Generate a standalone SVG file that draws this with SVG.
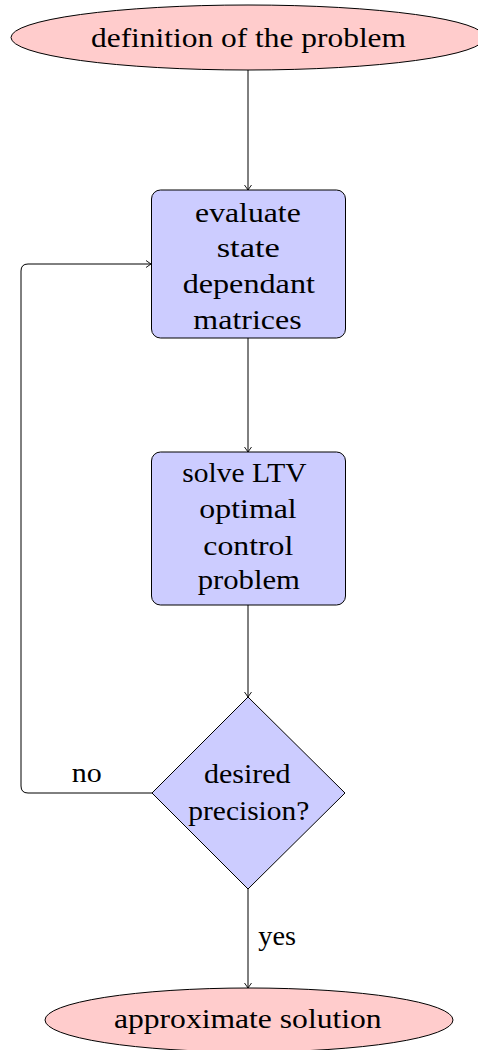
<svg xmlns="http://www.w3.org/2000/svg" width="478" height="1050" viewBox="0 0 478 1050">
<style>
.t{font-family:"Liberation Serif","Times New Roman",serif;font-size:28px;fill:#000;text-anchor:middle}
.e{fill:#FFCCCC;stroke:#000;stroke-width:1}
.b{fill:#CCCCFF;stroke:#000;stroke-width:1}
.c{fill:none;stroke:#000;stroke-width:1}
</style>
<defs>
<marker id="a" viewBox="-6 -5 8 10" refX="0" refY="0" markerWidth="8" markerHeight="10" markerUnits="userSpaceOnUse" orient="auto">
<path d="M-5,-3.5 Q-1.5,-1 0,0 Q-1.5,1 -5,3.5" fill="none" stroke="#000" stroke-width="0.9"/>
</marker>
</defs>
<g id="connectors">
<path class="c" d="M248,70 V190" marker-end="url(#a)"/>
<path class="c" d="M248,338 V452" marker-end="url(#a)"/>
<path class="c" d="M248,605 V697" marker-end="url(#a)"/>
<path class="c" d="M248,889 V988" marker-end="url(#a)"/>
<path class="c" d="M152,793 H28 Q21,793 21,786 V271 Q21,264 28,264 H151" marker-end="url(#a)"/>
<text class="t" x="86.7" y="782" textLength="30" lengthAdjust="spacingAndGlyphs">no</text>
<text class="t" x="277.2" y="945" textLength="37.7" lengthAdjust="spacingAndGlyphs">yes</text>
</g>
<g id="start">
<ellipse class="e" cx="248" cy="37.5" rx="237" ry="32.5"/>
<text class="t" x="248.5" y="46.7" textLength="315" lengthAdjust="spacingAndGlyphs">definition of the problem</text>
</g>
<g id="evaluate">
<rect class="b" x="151.5" y="190" width="194" height="148" rx="9"/>
<text class="t" x="247.9" y="221.5" textLength="105.7" lengthAdjust="spacingAndGlyphs">evaluate</text>
<text class="t" x="248.3" y="257.3" textLength="63.3" lengthAdjust="spacingAndGlyphs">state</text>
<text class="t" x="248.8" y="292.5" textLength="132.3" lengthAdjust="spacingAndGlyphs">dependant</text>
<text class="t" x="247.5" y="328.5" textLength="108.3" lengthAdjust="spacingAndGlyphs">matrices</text>
</g>
<g id="solve">
<rect class="b" x="151.5" y="452" width="194" height="153" rx="9"/>
<text class="t" x="244.5" y="481.7" textLength="124.3" lengthAdjust="spacingAndGlyphs">solve LTV</text>
<text class="t" x="248" y="518.3" textLength="97.3" lengthAdjust="spacingAndGlyphs">optimal</text>
<text class="t" x="248.3" y="555" textLength="90" lengthAdjust="spacingAndGlyphs">control</text>
<text class="t" x="248.8" y="588.5" textLength="102.3" lengthAdjust="spacingAndGlyphs">problem</text>
</g>
<g id="decision">
<polygon class="b" points="248,697 345,793 248,889 152,793"/>
<text class="t" x="247.3" y="783.3" textLength="86.7" lengthAdjust="spacingAndGlyphs">desired</text>
<text class="t" x="248.8" y="820" textLength="121" lengthAdjust="spacingAndGlyphs">precision?</text>
</g>
<g id="end">
<ellipse class="e" cx="249" cy="1020" rx="204" ry="32"/>
<text class="t" x="247.8" y="1028.3" textLength="267.7" lengthAdjust="spacingAndGlyphs">approximate solution</text>
</g>
</svg>
